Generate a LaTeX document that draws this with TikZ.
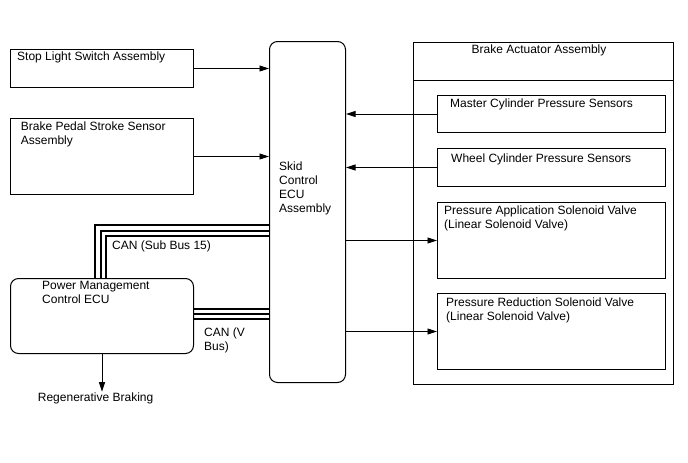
\documentclass[tikz,border=0pt]{standalone}
\usepackage{fontspec}
\setmainfont{Liberation Sans}
\usetikzlibrary{arrows.meta,calc}
\begin{document}
\begin{tikzpicture}[x=1pt,y=-1pt,
  box/.style={draw, line width=1pt, inner sep=0pt, anchor=north west},
  rbox/.style={box, rounded corners=8pt},
  txt/.style={font=\fontsize{12}{14}\selectfont, inner sep=0pt, anchor=north west, align=left},
  arr/.style={line width=0.9pt, -{Triangle[length=9.5pt,width=6pt]}},
  bus/.style={line width=1.8pt}]
\useasboundingbox (0,0) rectangle (688,463);
% boxes
\node[box, minimum width=183pt, minimum height=38pt] (sls) at (10,49) {};
\node[box, minimum width=183pt, minimum height=76pt] (bps) at (10,118) {};
\node[rbox, minimum width=76pt, minimum height=341pt] (ecu) at (269,41) {};
\node[box, minimum width=260pt, minimum height=342pt] (baa) at (413,42) {};
\node[box, minimum width=260pt, minimum height=38pt] (baahead) at (413,42) {};
\node[box, minimum width=228pt, minimum height=37pt] (mcp) at (437,95) {};
\node[box, minimum width=228pt, minimum height=38pt] (wcp) at (437,148) {};
\node[box, minimum width=228pt, minimum height=76pt] (pas) at (437,202) {};
\node[box, minimum width=228pt, minimum height=76pt] (prs) at (437,293) {};
\node[rbox, minimum width=183pt, minimum height=75pt] (pm) at (10,278) {};
% texts
\node[txt] (tsls) at (17,51.7) {Stop Light Switch Assembly};
\node[txt] (tbps) at (20.7,121.7) {Brake Pedal Stroke Sensor\\Assembly};
\node[txt] (tecu) at (279,161.7) {Skid\\Control\\ECU\\Assembly};
\node[txt, anchor=north] (tbaa) at (539,44.3) {Brake Actuator Assembly};
\node[txt] (tmcp) at (450,99) {Master Cylinder Pressure Sensors};
\node[txt] (twcp) at (451,154) {Wheel Cylinder Pressure Sensors};
\node[txt] (tpas) at (444,205.7) {Pressure Application Solenoid Valve\\(Linear Solenoid Valve)};
\node[txt] (tprs) at (446,297.3) {Pressure Reduction Solenoid Valve\\(Linear Solenoid Valve)};
\node[txt] (tpm) at (42,280.7) {Power Management\\Control ECU};
\node[txt] (tcanv) at (204,327.7) {CAN (V\\Bus)};
\node[txt] (tcans) at (112,241) {CAN (Sub Bus 15)};
\node[txt] (regen) at (37.7,392.7) {Regenerative Braking};
% arrows
\draw[arr] (sls.east) -- (sls.east -| ecu.west);
\draw[arr] (bps.east) -- (bps.east -| ecu.west);
\draw[arr] (mcp.west) -- (mcp.west -| ecu.east);
\draw[arr] (wcp.west) -- (wcp.west -| ecu.east);
\draw[arr] (pas.west -| ecu.east) -- (pas.west);
\draw[arr] (prs.west -| ecu.east) -- (prs.west);
\coordinate (pmout) at ([xshift=92pt]pm.south west);
\draw[arr, shorten >=1pt] (pmout) -- (pmout |- regen.north);
% CAN sub bus 15
\coordinate (s1) at (0,225);
\coordinate (s2) at (0,230.6);
\coordinate (s3) at (0,236);
\draw[bus] ([xshift=85pt]pm.north west) |- (ecu.west |- s1);
\draw[bus] ([xshift=90.6pt]pm.north west) |- (ecu.west |- s2);
\draw[bus] ([xshift=96pt]pm.north west) |- (ecu.west |- s3);
% CAN V bus
\coordinate (v1) at (0,309);
\coordinate (v2) at (0,314);
\coordinate (v3) at (0,319);
\draw[bus] (pm.east |- v1) -- (ecu.west |- v1);
\draw[bus] (pm.east |- v2) -- (ecu.west |- v2);
\draw[bus] (pm.east |- v3) -- (ecu.west |- v3);
\end{tikzpicture}
\end{document}
